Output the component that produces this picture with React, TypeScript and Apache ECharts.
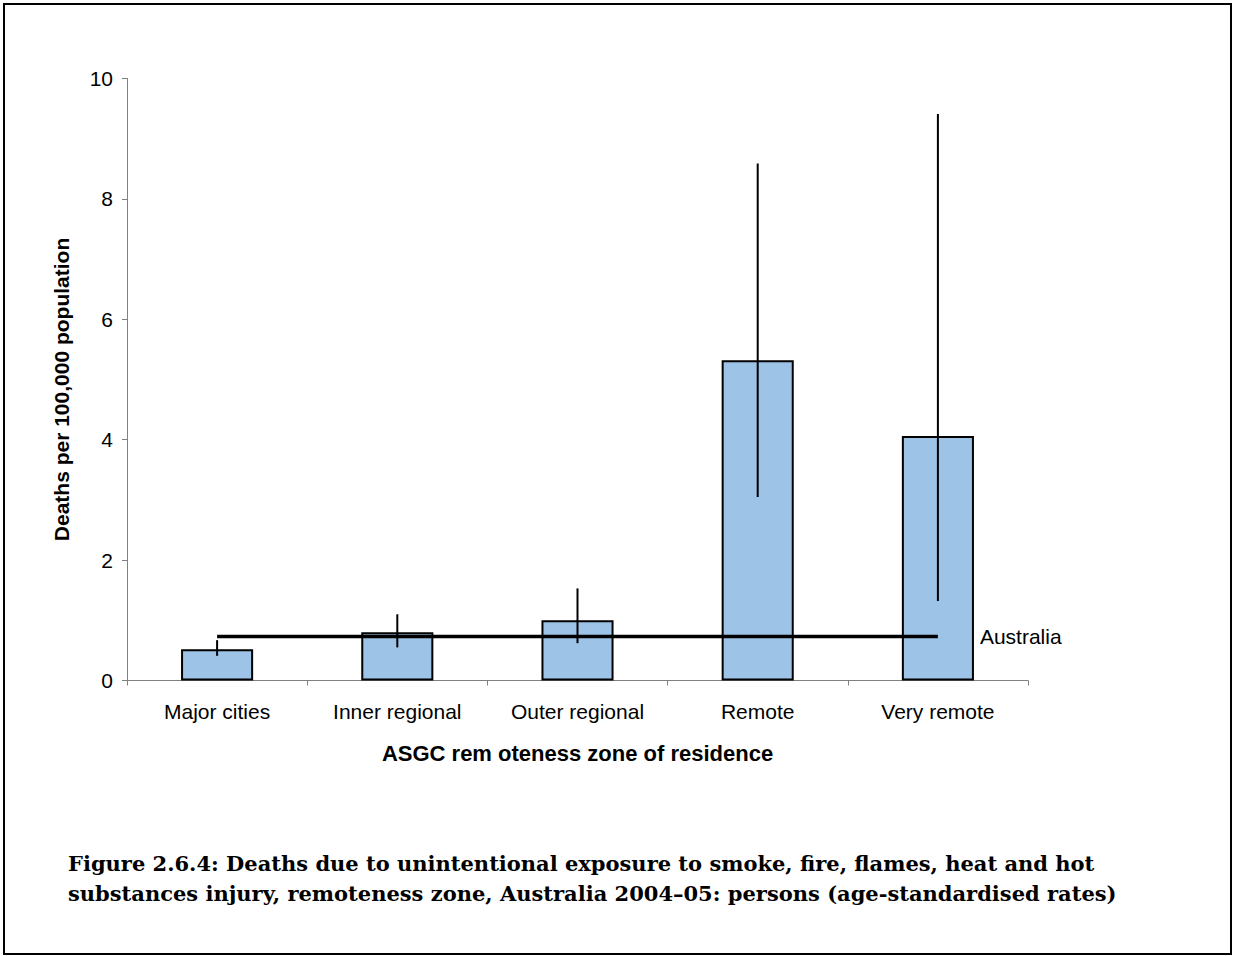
import React, { useEffect, useRef } from "react";
import * as echarts from "echarts";

const categories = ["Major cities", "Inner regional", "Outer regional", "Remote", "Very remote"];
const rates = [0.52, 0.8, 1.0, 5.32, 4.06];
const lowerCI = [0.41, 0.55, 0.62, 3.05, 1.32];
const upperCI = [0.67, 1.1, 1.53, 8.59, 9.41];
const australiaRate = [0.73, 0.73, 0.73, 0.73, 0.73];
const yTicks = [0, 2, 4, 6, 8, 10];

export default function App() {
  const ref = useRef<HTMLDivElement>(null);
  useEffect(() => {
    const chart = echarts.init(ref.current!, null, { renderer: "svg" });
    const font = "'Liberation Sans', Arial, sans-serif";
    chart.setOption({
      animation: false,
      backgroundColor: "#ffffff",
      grid: { left: 127, right: 208, top: 78.5, bottom: 275.5, containLabel: false },
      xAxis: {
        type: "category",
        data: categories,
        axisLine: { lineStyle: { color: "#808080", width: 1 } },
        axisTick: { show: true, length: 5, lineStyle: { color: "#808080" } },
        axisLabel: { color: "#000", fontFamily: font, fontSize: 21, margin: 20 },
        name: "ASGC rem oteness zone of residence",
        nameLocation: "middle",
        nameGap: 62,
        nameTextStyle: { color: "#000", fontFamily: font, fontSize: 22, fontWeight: "bold" },
      },
      yAxis: {
        type: "value",
        min: yTicks[0],
        max: yTicks[yTicks.length - 1],
        interval: 2,
        splitLine: { show: false },
        axisLine: { show: true, lineStyle: { color: "#808080", width: 1 } },
        axisTick: { show: true, length: 5, lineStyle: { color: "#808080" } },
        axisLabel: { color: "#000", fontFamily: font, fontSize: 21, margin: 14 },
        name: "Deaths per 100,000 population",
        nameLocation: "middle",
        nameGap: 55,
        nameRotate: 90,
        nameTextStyle: { color: "#000", fontFamily: font, fontSize: 21, fontWeight: "bold", padding: [0, 20, 0, 0] },
      },
      series: [
        {
          type: "bar",
          data: rates,
          barWidth: "40%",
          itemStyle: { color: "#9dc3e6", borderColor: "#000", borderWidth: 2 },
          z: 2,
        },
        {
          type: "custom",
          data: categories.map((_, i) => [i, lowerCI[i], upperCI[i]]),
          renderItem: (params: any, api: any) => {
            const idx = api.value(0);
            const lo = api.coord([idx, api.value(1)]);
            const hi = api.coord([idx, api.value(2)]);
            return {
              type: "line",
              shape: { x1: lo[0], y1: lo[1], x2: hi[0], y2: hi[1] },
              style: { stroke: "#000", lineWidth: 2 },
            };
          },
          z: 3,
        },
        {
          type: "line",
          data: australiaRate,
          symbol: "none",
          lineStyle: { color: "#000", width: 3.5 },
          endLabel: {
            show: true,
            formatter: "Australia",
            distance: 42,
            color: "#000",
            fontFamily: font,
            fontSize: 21,
          },
          z: 4,
        },
      ],
      graphic: [
        {
          type: "rect",
          shape: { x: 4, y: 4, width: 1227, height: 950 },
          style: { fill: "none", stroke: "#000", lineWidth: 2 },
          silent: true,
        },
        {
          type: "text",
          left: 68,
          top: 848,
          style: {
            text: "Figure 2.6.4: Deaths due to unintentional exposure to smoke, fire, flames, heat and hot\nsubstances injury, remoteness zone, Australia 2004\u201305: persons (age-standardised rates)",
            fill: "#000",
            font: "bold 21px 'DejaVu Serif', serif",
            lineHeight: 30,
          },
        },
      ],
    });
    return () => chart.dispose();
  }, []);
  return <div ref={ref} style={{ position: "fixed", left: 0, top: 0, width: 1236, height: 956 }} />;
}
